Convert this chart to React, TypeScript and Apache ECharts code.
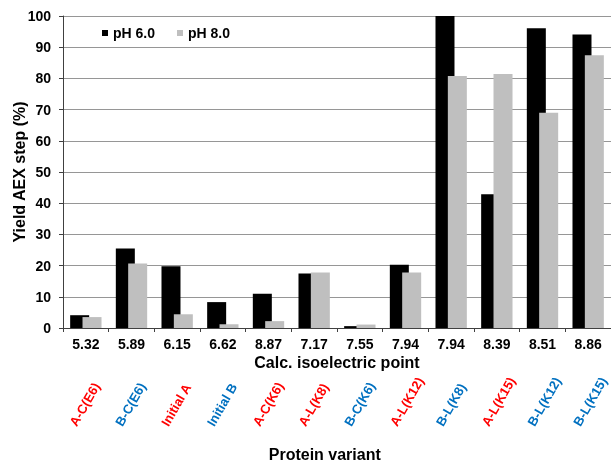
import React, { useEffect, useRef } from "react";
import * as echarts from "echarts";

const isoPoints = ["5.32", "5.89", "6.15", "6.62", "8.87", "7.17", "7.55", "7.94", "7.94", "8.39", "8.51", "8.86"];
const variants = ["A-C(E6)", "B-C(E6)", "Initial A", "Initial B", "A-C(K6)", "A-L(K8)", "B-C(K6)", "A-L(K12)", "B-L(K8)", "A-L(K15)", "B-L(K12)", "B-L(K15)"];
const variantGroup = ["A", "B", "A", "B", "A", "A", "B", "A", "B", "A", "B", "B"];
const ph6 = [4.1, 25.5, 19.8, 8.3, 11.0, 17.5, 0.6, 20.3, 100, 42.9, 96.1, 94.1];
const ph8 = [3.5, 20.7, 4.4, 1.2, 2.2, 17.8, 1.1, 17.8, 80.8, 81.4, 69.0, 87.4];
const yTicks = { min: 0, max: 100, interval: 10 };

const FONT = "'Liberation Sans', Arial, sans-serif";
const RED = "#ff0000";
const BLUE = "#0070c0";

export default function App() {
  const ref = useRef<HTMLDivElement>(null);
  useEffect(() => {
    if (!ref.current) return;
    const chart = echarts.init(ref.current, undefined, { renderer: "svg" });
    chart.setOption({
      animation: false,
      textStyle: { fontFamily: FONT },
      legend: {
        data: ["pH 6.0", "pH 8.0"],
        left: 102,
        top: 26,
        padding: 0,
        icon: "rect",
        itemWidth: 6,
        itemHeight: 6,
        itemGap: 22,
        textStyle: { fontSize: 14, fontWeight: "bold", color: "#000", fontFamily: FONT },
      },
      grid: [
        { left: 63, right: -1.5, top: 16, bottom: 139, containLabel: false },
        { left: 50, right: 11.5, top: 16, bottom: 139, containLabel: false },
      ],
      xAxis: [
        {
          type: "category",
          gridIndex: 0,
          data: isoPoints,
          name: "Calc. isoelectric point",
          nameLocation: "middle",
          nameGap: 26,
          nameMoveOverlap: false,
          nameTextStyle: { fontSize: 16, fontWeight: "bold", color: "#000", fontFamily: FONT },
          axisLine: { lineStyle: { color: "#404040", width: 1 } },
          axisTick: { show: true, length: 4, lineStyle: { color: "#404040" } },
          axisLabel: { fontSize: 14, fontWeight: "bold", color: "#000", margin: 9, interval: 0, fontFamily: FONT },
          splitLine: { show: false },
        },
        {
          type: "category",
          gridIndex: 1,
          data: variants,
          position: "bottom",
          name: "Protein variant",
          nameLocation: "middle",
          nameGap: 118,
          nameMoveOverlap: false,
          nameTextStyle: { fontSize: 16, fontWeight: "bold", color: "#000", fontFamily: FONT },
          axisLine: { show: false },
          axisTick: { show: false },
          splitLine: { show: false },
          axisLabel: {
            interval: 0,
            rotate: 60,
            align: "left",
            verticalAlign: "middle",
            margin: 97,
            fontSize: 13,
            fontWeight: "bold",
            fontFamily: FONT,
            color: (_v: string, i: number) => (variantGroup[i] === "A" ? RED : BLUE),
          },
        },
      ],
      yAxis: [
        {
          type: "value",
          gridIndex: 0,
          min: yTicks.min,
          max: yTicks.max,
          interval: yTicks.interval,
          name: "Yield AEX step (%)",
          nameLocation: "middle",
          nameGap: 36,
          nameMoveOverlap: false,
          nameTextStyle: { fontSize: 16, fontWeight: "bold", color: "#000", fontFamily: FONT },
          axisLine: { show: true, lineStyle: { color: "#404040", width: 1 } },
          axisTick: { show: true, length: 4, lineStyle: { color: "#404040" } },
          axisLabel: { fontSize: 14, fontWeight: "bold", color: "#000", margin: 12, fontFamily: FONT },
          splitLine: { show: true, lineStyle: { color: "#969696", width: 1 } },
        },
        { type: "value", gridIndex: 1, show: false, min: 0, max: 100 },
      ],
      series: [
        {
          name: "pH 6.0",
          type: "bar",
          xAxisIndex: 0,
          yAxisIndex: 0,
          data: ph6,
          barWidth: 19,
          barGap: "-35%",
          itemStyle: { color: "#000000" },
        },
        {
          name: "pH 8.0",
          type: "bar",
          xAxisIndex: 0,
          yAxisIndex: 0,
          data: ph8,
          barWidth: 19,
          barGap: "-35%",
          itemStyle: { color: "#bfbfbf" },
        },
      ],
    });
    return () => chart.dispose();
  }, []);
  return <div ref={ref} style={{ position: "fixed", left: 0, top: 0, width: 611, height: 467 }} />;
}
